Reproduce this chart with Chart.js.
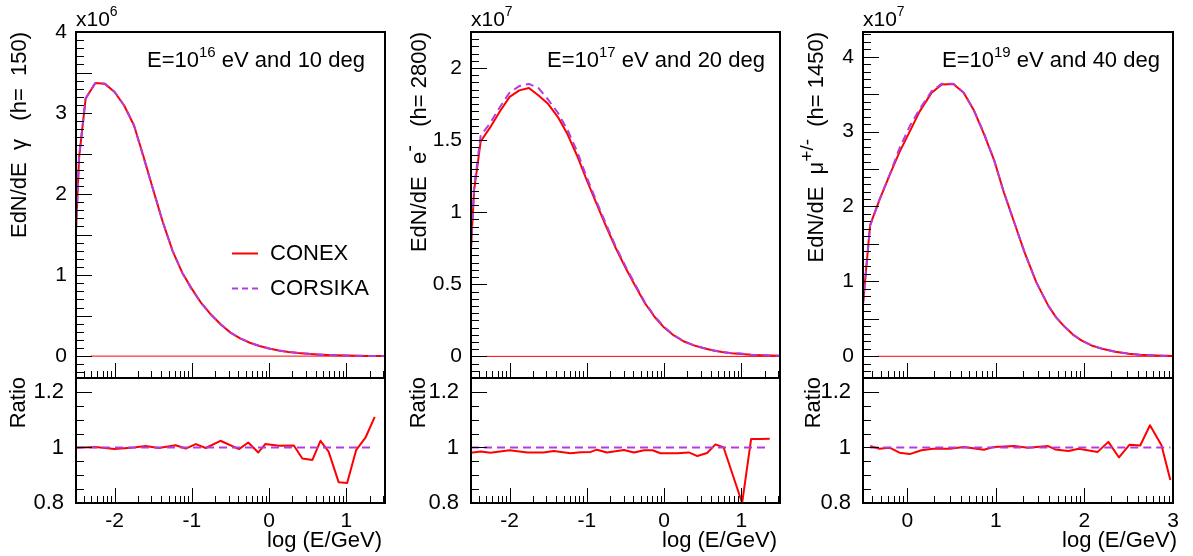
<!DOCTYPE html>
<html>
<head>
<meta charset="utf-8">
<script src="https://cdn.jsdelivr.net/npm/chart.js@4.4.1/dist/chart.umd.min.js"></script>
<style>
  html, body { margin: 0; padding: 0; background: #fff; }
  #page { position: relative; width: 1193px; height: 556px; overflow: hidden; }
  #page canvas { position: absolute; }
</style>
</head>
<body>
<div id="page"></div>
<script>
// ---- photons, E=10^16 eV, 10 deg, h=150 (EdN/dE in units of 10^6)
const gammaLogE    = [-2.5, -2.46, -2.375, -2.25, -2.125, -2.0, -1.875, -1.75, -1.625, -1.5, -1.375, -1.25, -1.125, -1.0, -0.875, -0.75, -0.625, -0.5, -0.375, -0.25, -0.125, 0, 0.125, 0.25, 0.375, 0.5, 0.625, 0.75, 0.875, 1.0, 1.125, 1.25, 1.375, 1.5];
const gammaConex   = [1.55, 2.45, 3.18, 3.37, 3.36, 3.26, 3.09, 2.85, 2.46, 2.05, 1.65, 1.30, 1.03, 0.83, 0.65, 0.51, 0.39, 0.29, 0.22, 0.165, 0.125, 0.095, 0.07, 0.052, 0.038, 0.028, 0.02, 0.014, 0.01, 0.007, 0.005, 0.003, 0.002, 0.001];
const gammaCorsika = [1.56, 2.46, 3.18, 3.37, 3.36, 3.26, 3.09, 2.85, 2.45, 2.05, 1.65, 1.30, 1.03, 0.82, 0.65, 0.51, 0.39, 0.29, 0.22, 0.165, 0.125, 0.095, 0.07, 0.052, 0.038, 0.029, 0.021, 0.014, 0.011, 0.008, 0.005, 0.003, 0.002, 0.001];
const gammaRatioLogE = [-2.5, -2.25, -2.0, -1.75, -1.6, -1.43, -1.21, -1.08, -0.95, -0.82, -0.63, -0.39, -0.27, -0.14, -0.05, 0.125, 0.32, 0.43, 0.56, 0.665, 0.77, 0.9, 1.01, 1.126, 1.247, 1.367];
const gammaRatio     = [0.999, 1.002, 0.994, 1.0, 1.005, 0.998, 1.008, 0.996, 1.012, 0.998, 1.024, 0.994, 1.018, 0.982, 1.012, 1.006, 1.007, 0.96, 0.955, 1.024, 0.985, 0.875, 0.872, 0.99, 1.035, 1.11];
const gammaZeroLine  = [-2.31, 1.5];

// ---- electrons, E=10^17 eV, 20 deg, h=2800 (units of 10^7)
const elecLogE    = [-2.5, -2.46, -2.375, -2.25, -2.125, -2.0, -1.875, -1.75, -1.625, -1.5, -1.375, -1.25, -1.125, -1.0, -0.875, -0.75, -0.625, -0.5, -0.375, -0.25, -0.125, 0, 0.125, 0.25, 0.375, 0.5, 0.625, 0.75, 0.875, 1.0, 1.125, 1.25, 1.375, 1.5];
const elecConex   = [0.75, 1.15, 1.49, 1.59, 1.70, 1.80, 1.845, 1.862, 1.81, 1.75, 1.66, 1.54, 1.39, 1.22, 1.06, 0.90, 0.75, 0.615, 0.49, 0.37, 0.275, 0.20, 0.145, 0.105, 0.078, 0.058, 0.042, 0.03, 0.022, 0.016, 0.011, 0.008, 0.006, 0.004];
const elecCorsika = [0.76, 1.17, 1.53, 1.62, 1.73, 1.83, 1.875, 1.89, 1.86, 1.78, 1.69, 1.57, 1.42, 1.24, 1.075, 0.915, 0.76, 0.625, 0.50, 0.375, 0.28, 0.205, 0.148, 0.107, 0.08, 0.06, 0.043, 0.03, 0.022, 0.02, 0.011, 0.008, 0.006, 0.004];
const elecRatioLogE = [-2.5, -2.375, -2.25, -2.0, -1.77, -1.56, -1.43, -1.21, -1.08, -0.95, -0.87, -0.74, -0.52, -0.39, -0.26, -0.15, -0.047, 0.17, 0.32, 0.43, 0.556, 0.665, 0.77, 1.01, 1.126, 1.247, 1.367];
const elecRatio     = [0.981, 0.985, 0.981, 0.99, 0.982, 0.982, 0.987, 0.979, 0.983, 0.984, 0.992, 0.982, 0.991, 0.982, 0.99, 0.99, 0.979, 0.979, 0.982, 0.969, 0.98, 1.011, 1.0, 0.8, 1.03, 1.03, 1.031];
const elecZeroLine  = [-2.31, 1.5];

// ---- muons, E=10^19 eV, 40 deg, h=1450 (units of 10^7)
const muonLogE    = [-0.5, -0.42, -0.315, -0.2, -0.087, 0.027, 0.14, 0.275, 0.39, 0.52, 0.637, 0.75, 0.865, 0.98, 1.09, 1.21, 1.32, 1.456, 1.59, 1.68, 1.78, 1.87, 1.97, 2.08, 2.2, 2.35, 2.5, 2.62, 2.75, 2.88, 3.0];
const muonConex   = [0.70, 1.75, 2.085, 2.42, 2.73, 3.0, 3.27, 3.52, 3.63, 3.635, 3.52, 3.29, 2.97, 2.62, 2.19, 1.78, 1.40, 0.99, 0.68, 0.52, 0.39, 0.29, 0.21, 0.145, 0.10, 0.06, 0.035, 0.022, 0.015, 0.008, 0.004];
const muonCorsika = [0.69, 1.74, 2.09, 2.42, 2.78, 3.07, 3.30, 3.54, 3.64, 3.64, 3.52, 3.29, 2.98, 2.62, 2.19, 1.78, 1.40, 0.99, 0.68, 0.52, 0.39, 0.29, 0.21, 0.146, 0.10, 0.06, 0.035, 0.022, 0.014, 0.008, 0.004];
const muonRatioLogE = [-0.418, -0.315, -0.2, -0.088, 0.027, 0.16, 0.29, 0.48, 0.64, 0.865, 0.98, 1.21, 1.36, 1.59, 1.67, 1.82, 1.935, 2.15, 2.27, 2.39, 2.51, 2.63, 2.74, 2.87, 2.97];
const muonRatio     = [1.005, 0.995, 0.999, 0.981, 0.976, 0.99, 0.995, 0.995, 1.002, 0.992, 1.002, 1.005, 0.999, 1.005, 0.993, 0.987, 0.995, 0.984, 1.02, 0.964, 1.01, 1.007, 1.08, 1.008, 0.883];
const muonZeroLine  = [-0.335, 3.0];

// tick labels
const gammaYTicks = [0, 1, 2, 3, 4];
const elecYTicks  = [0, 0.5, 1, 1.5, 2];
const muonYTicks  = [0, 1, 2, 3, 4];
const ratioYTicks = [0.8, 1, 1.2];
const lowXTicks   = [-2, -1, 0, 1];
const muonXTicks  = [0, 1, 2, 3];

const RED = '#ff0000';
const VIOLET = '#b23ce0';
const FONT = '"Liberation Sans", Arial, Helvetica, sans-serif';

// pad geometry (page pixels); canvases overlap so Chart.js label padding never moves the frames
const FRAME_TOP = 32, FRAME_SPLIT = 378, FRAME_BOTTOM = 503;
const MAIN_H = 420, RATIO_TOP = 340, RATIO_H = 216;

const panels = [
  {
    left: 0, right: 395, frameL: 76, frameR: 385, titleX: 26, ratioTitleX: 25, xTitleEnd: 382, annotX: 147,
    logE: gammaLogE, conex: gammaConex, corsika: gammaCorsika, zero: gammaZeroLine,
    rLogE: gammaRatioLogE, ratio: gammaRatio,
    xMin: -2.5, xMax: 1.5, yMin: -0.27, yMax: 4.0, yTicks: gammaYTicks, yLong: 0.5, yShort: 0.1, xTicks: lowXTicks,
    exp: '6', energy: '16', angle: '10',
    yTitle: [{ t: 'EdN/dE  \u03b3   (h=  150)' }],
    legend: true
  },
  {
    left: 395, right: 795, frameL: 471, frameR: 780, titleX: 426, ratioTitleX: 425, xTitleEnd: 777, annotX: 547,
    logE: elecLogE, conex: elecConex, corsika: elecCorsika, zero: elecZeroLine,
    rLogE: elecRatioLogE, ratio: elecRatio,
    xMin: -2.5, xMax: 1.5, yMin: -0.15, yMax: 2.25, yTicks: elecYTicks, yLong: 0.5, yShort: 0.05, xTicks: lowXTicks,
    exp: '7', energy: '17', angle: '20',
    yTitle: [{ t: 'EdN/dE  e' }, { t: '-', sup: true, size: 20 }, { t: '   (h= 2800)' }],
    legend: false
  },
  {
    left: 795, right: 1193, frameL: 863, frameR: 1173, titleX: 823, ratioTitleX: 820, xTitleEnd: 1177, annotX: 942,
    logE: muonLogE, conex: muonConex, corsika: muonCorsika, zero: muonZeroLine,
    rLogE: muonRatioLogE, ratio: muonRatio,
    xMin: -0.5, xMax: 3.0, yMin: -0.29, yMax: 4.33, yTicks: muonYTicks, yLong: 0.5, yShort: 0.1, xTicks: muonXTicks,
    exp: '7', energy: '19', angle: '40',
    yTitle: [{ t: 'EdN/dE  \u03bc' }, { t: '+/-', sup: true, size: 19 }, { t: '  (h= 1450)' }],
    legend: false
  }
];

const pairs = (xs, ys) => xs.map((x, i) => ({ x: x, y: ys[i] }));

// draws text runs with superscripts starting at (x, y); returns total width
function richText(ctx, parts, x, y, size, draw) {
  let cx = x;
  for (const p of parts) {
    const fs = p.sup ? (p.size || Math.round(size * 0.68)) : size;
    ctx.font = fs + 'px ' + FONT;
    if (draw) ctx.fillText(p.t, cx, p.sup ? y - size * 0.45 : y);
    cx += ctx.measureText(p.t).width;
  }
  return cx - x;
}

function vertText(ctx, parts, baseX, endY, size) {
  const w = richText(ctx, parts, 0, 0, size, false);
  ctx.save();
  ctx.translate(baseX, endY + w);
  ctx.rotate(-Math.PI / 2);
  richText(ctx, parts, 0, 0, size, true);
  ctx.restore();
}

// inward ROOT-style ticks and the frame
const padPlugin = {
  id: 'pad',
  afterDatasetsDraw(chart, args, o) {
    const { ctx, chartArea: a } = chart;
    const x = chart.scales.x, y = chart.scales.y;
    ctx.save();
    ctx.strokeStyle = '#000';
    ctx.lineWidth = 1;
    ctx.beginPath();
    const n0 = Math.ceil(y.min / o.yShort - 1e-6), n1 = Math.floor(y.max / o.yShort + 1e-6);
    for (let n = n0; n <= n1; n++) {
      const v = n * o.yShort;
      const r = v / o.yLong;
      const len = Math.abs(r - Math.round(r)) < 1e-6 ? 16 : 8;
      const py = Math.round(y.getPixelForValue(v)) + 0.5;
      ctx.moveTo(a.left, py);
      ctx.lineTo(a.left + len, py);
    }
    for (let d = Math.floor(x.min); d <= Math.ceil(x.max); d++) {
      for (let k = 1; k <= 9; k++) {
        const v = d + Math.log10(k);
        if (v < x.min - 1e-6 || v > x.max + 1e-6) continue;
        const px = Math.round(x.getPixelForValue(v)) + 0.5;
        ctx.moveTo(px, a.bottom);
        ctx.lineTo(px, a.bottom - (k === 1 ? 15 : 7));
      }
    }
    ctx.stroke();
    ctx.lineWidth = 2;
    ctx.strokeRect(a.left, a.top, a.right - a.left, a.bottom - a.top);
    ctx.restore();
  },
  afterDraw(chart, args, o) {
    const ctx = chart.ctx;
    const p = o.panel;
    ctx.save();
    ctx.fillStyle = '#000';
    ctx.textBaseline = 'alphabetic';
    ctx.textAlign = 'left';
    if (o.kind === 'main') {
      const ox = p.left;
      vertText(ctx, p.yTitle, p.titleX - ox, FRAME_TOP, 22);
      richText(ctx, [{ t: 'x10' }, { t: p.exp, sup: true }], p.frameL - ox, 25.5, 21, true);
      richText(ctx, [{ t: 'E=10' }, { t: p.energy, sup: true }, { t: ' eV and ' + p.angle + ' deg' }],
        p.annotX - ox, 66.5, 22, true);
      if (p.legend) {
        ctx.lineWidth = 2;
        ctx.strokeStyle = RED;
        ctx.beginPath(); ctx.moveTo(232 - ox, 253.5); ctx.lineTo(258 - ox, 253.5); ctx.stroke();
        ctx.strokeStyle = VIOLET;
        ctx.setLineDash([6, 4]);
        ctx.beginPath(); ctx.moveTo(232 - ox, 288.5); ctx.lineTo(258 - ox, 288.5); ctx.stroke();
        ctx.setLineDash([]);
        ctx.font = '22px ' + FONT;
        ctx.fillText('CONEX', 270 - ox, 260);
        ctx.fillText('CORSIKA', 270 - ox, 295);
      }
    } else {
      const ox = p.left, oy = RATIO_TOP;
      vertText(ctx, [{ t: 'Ratio' }], p.ratioTitleX - ox, FRAME_SPLIT - oy - 1, 22);
      ctx.font = '22px ' + FONT;
      ctx.textAlign = 'right';
      ctx.fillText('log (E/GeV)', p.xTitleEnd - ox, 547 - oy);
    }
    ctx.restore();
  }
};

function addCanvas(left, top, w, h) {
  const c = document.createElement('canvas');
  c.width = w; c.height = h;
  c.style.left = left + 'px'; c.style.top = top + 'px';
  c.style.width = w + 'px'; c.style.height = h + 'px';
  document.getElementById('page').appendChild(c);
  return c;
}

const tickFont = { family: FONT, size: 21 };

function yAxis(p, min, max, ticks, size, pad) {
  return {
    type: 'linear', min: min, max: max,
    grid: { display: false, drawTicks: false }, border: { display: false },
    ticks: { color: '#000', font: { family: FONT, size: size }, padding: pad, callback: v => String(v) },
    afterBuildTicks: s => { s.ticks = ticks.map(v => ({ value: v })); },
    afterFit: s => { s.width = p.frameL - p.left; }
  };
}

const common = {
  responsive: false, animation: false, events: [],
  elements: { point: { radius: 0 }, line: { tension: 0, fill: false, borderJoinStyle: 'round' } }
};

panels.forEach(p => {
  const w = p.right - p.left;

  const mainCanvas = addCanvas(p.left, 0, w, MAIN_H);
  new Chart(mainCanvas, {
    type: 'line',
    data: {
      datasets: [
        { label: 'CORSIKA', data: pairs(p.logE, p.corsika), borderColor: VIOLET, borderWidth: 2, borderDash: [8, 5], order: 0 },
        { label: 'CONEX', data: pairs(p.logE, p.conex), borderColor: RED, borderWidth: 2, order: 1 },
        { label: 'zero', data: pairs(p.zero, [0, 0]), borderColor: RED, borderWidth: 1, order: 2 }
      ]
    },
    options: Object.assign({}, common, {
      layout: { padding: { top: FRAME_TOP, bottom: MAIN_H - FRAME_SPLIT, left: 0, right: p.right - p.frameR } },
      plugins: {
        legend: { display: false }, tooltip: { enabled: false },
        pad: { kind: 'main', panel: p, yLong: p.yLong, yShort: p.yShort }
      },
      scales: {
        x: { type: 'linear', min: p.xMin, max: p.xMax, display: false },
        y: yAxis(p, p.yMin, p.yMax, p.yTicks, 21, 9)
      }
    }),
    plugins: [padPlugin]
  });

  const ratioCanvas = addCanvas(p.left, RATIO_TOP, w, RATIO_H);
  const rEnds = [p.rLogE[0], p.rLogE[p.rLogE.length - 1]];
  new Chart(ratioCanvas, {
    type: 'line',
    data: {
      datasets: [
        { label: 'CORSIKA', data: pairs(rEnds, [1, 1]), borderColor: VIOLET, borderWidth: 2, borderDash: [8, 5], order: 0 },
        { label: 'CONEX/CORSIKA', data: pairs(p.rLogE, p.ratio), borderColor: RED, borderWidth: 2, order: 1 }
      ]
    },
    options: Object.assign({}, common, {
      layout: { padding: { top: FRAME_SPLIT - RATIO_TOP, bottom: 0, left: 0, right: p.right - p.frameR } },
      plugins: {
        legend: { display: false }, tooltip: { enabled: false },
        pad: { kind: 'ratio', panel: p, yLong: 0.2, yShort: 0.05 }
      },
      scales: {
        x: {
          type: 'linear', min: p.xMin, max: p.xMax,
          grid: { display: false, drawTicks: false }, border: { display: false },
          ticks: { color: '#000', font: tickFont, padding: 6, maxRotation: 0, autoSkip: false, callback: v => String(v) },
          afterBuildTicks: s => { s.ticks = p.xTicks.map(v => ({ value: v })); },
          afterFit: s => { s.height = RATIO_TOP + RATIO_H - FRAME_BOTTOM; }
        },
        y: yAxis(p, 0.8, 1.25, ratioYTicks, 22, 12)
      }
    }),
    plugins: [padPlugin]
  });
});
</script>
</body>
</html>
